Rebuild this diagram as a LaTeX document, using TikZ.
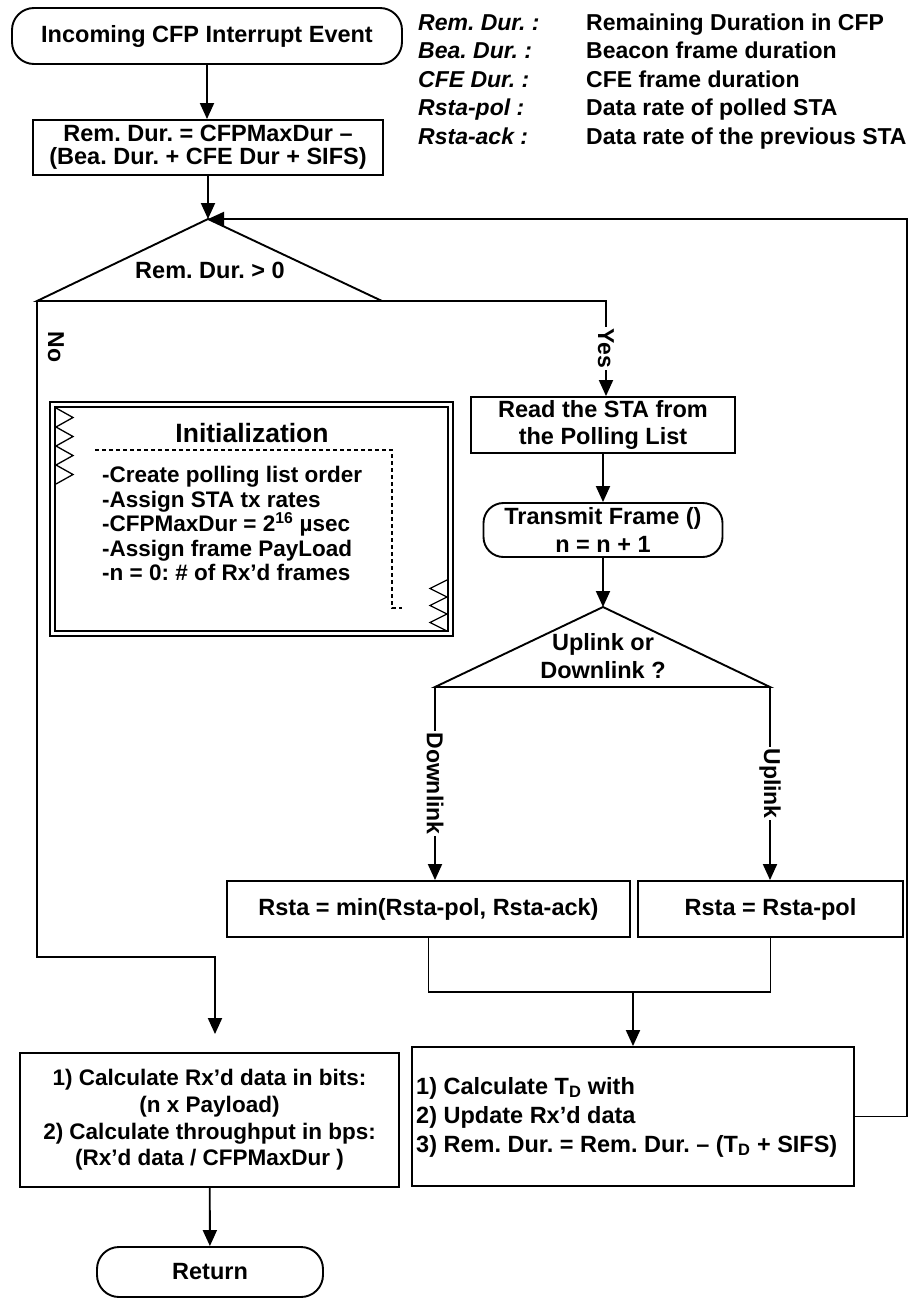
\documentclass[tikz,border=0pt]{standalone}
\usepackage{fontspec}
\setmainfont{Liberation Sans}
\usetikzlibrary{arrows.meta}
\newcommand\myfs[2]{\fontsize{#1}{#2}\selectfont\bfseries}
\frenchspacing

\begin{document}
\frenchspacing
\begin{tikzpicture}[x=1pt,y=-1pt,
  ln/.style={line width=1.9pt},
  box/.style={draw, ln, inner sep=2pt, align=center, font=\myfs{23.5}{25}},
  term/.style={box, rounded corners=22pt},
  arr/.style={ln, -{Triangle[length=16pt,width=14pt]}},
  lab/.style={fill=white, rotate=-90, inner sep=1.5pt, font=\myfs{23}{25}},
  txt/.style={inner sep=0pt, align=center, font=\myfs{23.5}{25}},
  key/.style={anchor=west, inner sep=0pt, text height=17pt, text depth=5pt, font=\myfs{23}{25}\itshape},
  def/.style={anchor=west, inner sep=0pt, text height=17pt, text depth=5pt, font=\myfs{23}{25}},
  zig/.style={line width=1.3pt, line join=miter},
]
\fill[white] (0,0) rectangle (917,1301);
\useasboundingbox (0,0) rectangle (917,1301);

% legend
\node[key] (k1) at (418,24)  {Rem. Dur. :};
\node[key] (k2) at (418,52)  {Bea. Dur. :};
\node[key] (k3) at (418,81)  {CFE Dur. :};
\node[key] (k4) at (418,109) {Rsta-pol :};
\node[key] (k5) at (418,138) {Rsta-ack :};
\node[def] (v1) at (586,24)  {Remaining Duration in CFP};
\node[def] (v2) at (586,52)  {Beacon frame duration};
\node[def] (v3) at (586,81)  {CFE frame duration};
\node[def] (v4) at (586,109) {Data rate of polled STA};
\node[def] (v5) at (586,138) {Data rate of the previous STA};

% main flow
\node[term, minimum width=390pt, minimum height=56pt] (start) at (207,36) {Incoming CFP Interrupt Event};
\node[box, minimum width=350pt, minimum height=55pt, font=\myfs{23.5}{23}] (rem) at (208,147.5)
  {Rem. Dur. = CFPMaxDur –\\(Bea. Dur. + CFE Dur + SIFS)};

% decision: remaining duration
\coordinate (d1t) at (208,219);
\coordinate (d1l) at (37,301);
\coordinate (d1r) at (382,301);
\draw[ln, line join=miter] (d1l) -- (d1t) -- (d1r) -- cycle;
\node[txt] (d1) at (210,270) {Rem. Dur. > 0};

\node[box, minimum width=264pt, minimum height=56pt, font=\myfs{23.5}{27}] (read) at (603,425)
  {Read the STA from\\the Polling List};
\node[term, minimum width=239pt, minimum height=54pt, rounded corners=20pt, font=\myfs{23.5}{28}] (trans) at (603,530)
  {Transmit Frame ()\\n = n + 1};

% decision: link direction
\coordinate (d2t) at (603,607);
\coordinate (d2l) at (435,687);
\coordinate (d2r) at (770,687);
\draw[ln, line join=miter] (d2l) -- (d2t) -- (d2r) -- cycle;
\node[txt, font=\myfs{23.5}{28}] (d2) at (603,656) {Uplink or\\Downlink ?};

\node[box, minimum width=403pt, minimum height=56pt] (rsta1) at (428.5,909) {Rsta = min(Rsta-pol, Rsta-ack)};
\node[box, minimum width=265pt, minimum height=56pt] (rsta2) at (770.5,909) {Rsta = Rsta-pol};

\node[box, minimum width=442pt, minimum height=139pt] (calc) at (633,1116.5) {};
\node[txt, align=left, anchor=west, font=\myfs{23.5}{29}] (calctxt) at (416,1117)
  {1) Calculate T\textsubscript{D} with\\2) Update Rx’d data\\3) Rem. Dur. = Rem. Dur. – (T\textsubscript{D} + SIFS)};

\node[box, minimum width=379pt, minimum height=134pt, font=\myfs{22.5}{26.7}] (res) at (209.5,1120)
  {1) Calculate Rx’d data in bits:\\(n x Payload)\\2) Calculate throughput in bps:\\(Rx’d data / CFPMaxDur )};
\node[term, minimum width=226pt, minimum height=50pt] (ret) at (210,1272) {Return};

% initialization panel
\node[draw, line width=1.5pt, minimum width=403pt, minimum height=234pt, inner sep=0pt] (initout) at (251.5,519) {};
\node[draw, line width=1.5pt, minimum width=393pt, minimum height=224pt, inner sep=0pt] (initin) at (251.5,519) {};
\node[txt, font=\myfs{26.5}{28}] (ititle) at (252,433) {Initialization};
\node[txt, align=left, anchor=north west, font=\myfs{22.5}{24.5}] (items) at (102,466)
  {-Create polling list order\\-Assign STA tx rates\\-CFPMaxDur = 2\textsuperscript{16} µsec\\-Assign frame PayLoad\\-n = 0: \# of Rx’d frames};
\draw[line width=1.3pt, dash pattern=on 4pt off 3pt] (95,450) -- (392,450) -- (392,608) -- (402,608);
\draw[zig] (56,408) -- (73,417.5) -- (56,427) -- (73,436.5) -- (56,446) -- (73,455.5) -- (56,465) -- (73,474.5) -- (56,484);
\draw[zig] (447,580) -- (430,588.5) -- (447,597) -- (430,605.5) -- (447,614) -- (430,622.5) -- (447,631);

% connectors
\draw[arr] (start.south) -- (start.south |- rem.north);
\draw[arr] (rem) -- (d1t);
\draw[arr] (d1r) -| node[lab, pos=0.75] (yes) {Yes} ([xshift=3pt]read.north);
\draw[arr] (read) -- (trans);
\draw[arr] (trans) -- (d2t);
\draw[arr] (d2l) -- node[lab] (down) {Downlink} (d2l |- rsta1.north);
\draw[arr] (d2r) -- node[lab] (up) {Uplink} (d2r |- rsta2.north);

\coordinate (mrg) at (633,992);
\draw[ln] (rsta1.south) |- (mrg) -| (rsta2.south);
\draw[arr] (mrg) -- (calc);

\coordinate (lpt) at (907,219);
\draw[arr] (calc.east) -| (lpt) -- (d1t);

\coordinate (nturn) at (215,957);
\draw[arr, shorten >=18pt] (d1l) |- (nturn) -- (nturn |- res.north);
\node[lab] (no) at (56,347) {No};

\draw[arr] (res) -- (ret);
\end{tikzpicture}
\end{document}
